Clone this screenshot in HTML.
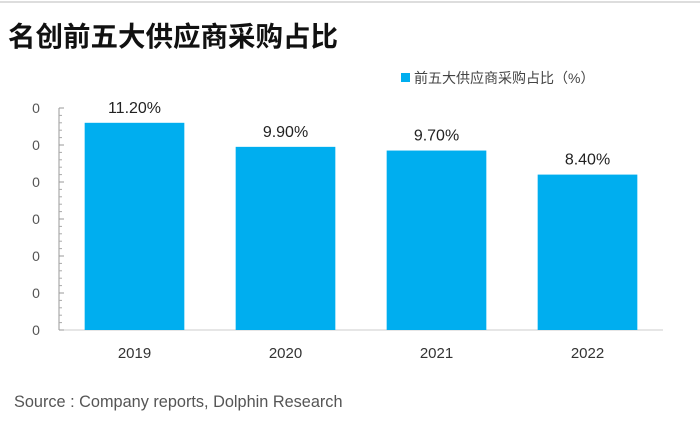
<!DOCTYPE html>
<html><head><meta charset="utf-8"><style>
body{margin:0;width:700px;height:422px;background:#fff;overflow:hidden;font-family:"Liberation Sans","Noto Sans CJK SC",sans-serif}
</style></head><body>
<svg width="700" height="422">
<line x1="0" y1="2" x2="700" y2="2" stroke="#ddd" stroke-width="2"/>
<text x="8" y="46" font-size="27.5" font-weight="bold" fill="#111" font-family="Liberation Sans,Noto Sans CJK SC,sans-serif">名创前五大供应商采购占比</text>
<rect x="401" y="73" width="9" height="9" fill="#00aeef"/>
<text x="414" y="83" font-size="14" fill="#444">前五大供应商采购占比（%）</text>
<g id="axes"></g><g id="bars"></g>
<text x="14" y="407" font-size="16.3" fill="#555">Source : Company reports, Dolphin Research</text>
</svg>
<script>
const categories=["2019","2020","2021","2022"];
const values=[11.2,9.9,9.7,8.4];
const valueLabels=["11.20%","9.90%","9.70%","8.40%"];
const yTicks=[0,2,4,6,8,10,12];
const ns="http://www.w3.org/2000/svg";
const x0=59,x1=663,y0=330,ppu=18.5,bw=(x1-x0)/categories.length;
const ys=v=>y0-v*ppu;
function mk(t,a,p,txt){const e=document.createElementNS(ns,t);for(const k in a)e.setAttribute(k,a[k]);if(txt!==undefined)e.textContent=txt;p.appendChild(e);return e;}
const ax=document.getElementById('axes'),bg=document.getElementById('bars');
const yl=mk('line',{x1:x0,y1:ys(12),x2:x0,y2:y0,stroke:'#999'},ax);


const xl=mk('line',{x1:x0,y1:y0,x2:x1,y2:y0,stroke:'#ccc'},ax);


yTicks.forEach(t=>{
 const y=ys(t);
 mk('line',{x1:x0,y1:y,x2:x0+5,y2:y,stroke:'#999'},ax);
 for(let i=1;i<5&&t<12;i++)mk('line',{x1:x0,y1:y-i*ppu*0.4,x2:x0+3,y2:y-i*ppu*0.4,stroke:'#aaa'},ax);
 const l=mk('text',{x:36,y:y+5,'font-size':14,fill:'#555','text-anchor':'middle'},ax,'0');
 
 
});
categories.forEach((c,i)=>{
 const cx=x0+bw*(i+0.5),w=bw*0.66;
 const r=mk('rect',{x:cx-w/2,y:ys(values[i]),width:w,height:y0-ys(values[i]),fill:'#00aeef'},bg);
 
 
 const v=mk('text',{x:cx,y:ys(values[i])-10,'font-size':16,fill:'#222','text-anchor':'middle'},bg,valueLabels[i]);
 
 
 const l=mk('text',{x:cx,y:358,'font-size':15,fill:'#333','text-anchor':'middle'},bg,c);
 
 
});
</script>
</body></html>
